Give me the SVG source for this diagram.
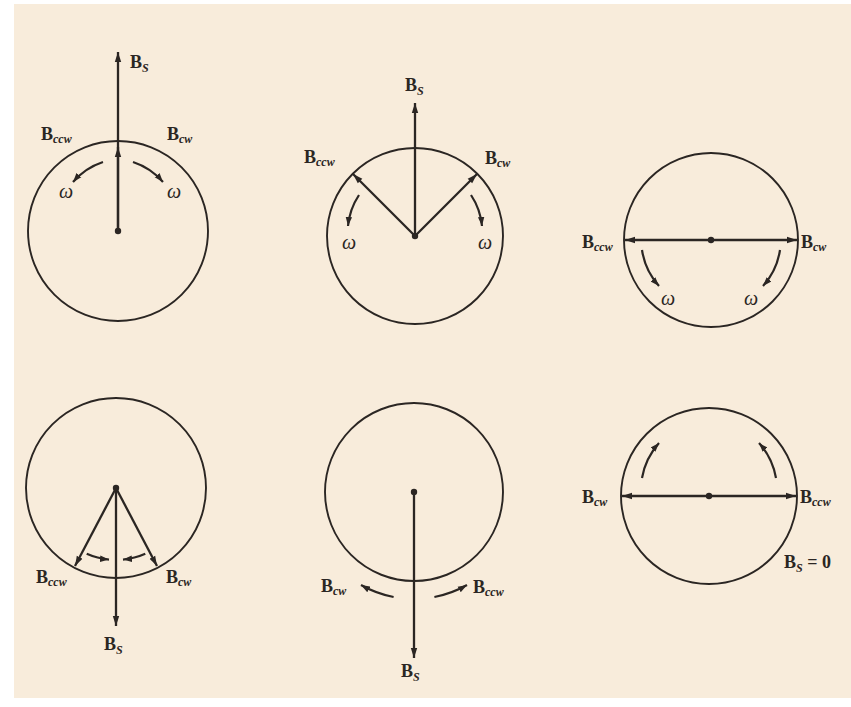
<svg xmlns="http://www.w3.org/2000/svg" width="851" height="707" viewBox="0 0 851 707">
<defs>
<style>
.bg{fill:#f8ecdb}
.circ{fill:none;stroke:#2b2623;stroke-width:1.9}
.vec{fill:none;stroke:#2b2623;stroke-width:2.3;marker-end:url(#ah)}
.rot{fill:none;stroke:#2b2623;stroke-width:2.2;marker-end:url(#ahs)}
.dot{fill:#2b2623}
.lbl{font-family:"Liberation Serif","DejaVu Serif",serif;font-weight:bold;font-size:18px;fill:#2b2623}
.sub{font-style:italic;font-size:12px}
.om{font-family:"Liberation Serif","DejaVu Serif",serif;font-style:italic;font-size:20px;fill:#2b2623}
</style>
<marker id="ah" markerUnits="userSpaceOnUse" markerWidth="11" markerHeight="8" refX="10" refY="4" orient="auto">
<path d="M0,0.8 L10,4 L0,7.2 Z" fill="#2b2623"/>
</marker>
<marker id="ahs" markerUnits="userSpaceOnUse" markerWidth="10" markerHeight="8" refX="9" refY="4" orient="auto">
<path d="M0,0.8 L9,4 L0,7.2 Z" fill="#2b2623"/>
</marker>
</defs>
<rect width="851" height="707" fill="#ffffff"/>
<rect class="bg" x="14" y="4" width="837" height="694"/>

<g id="panel1">
<circle class="circ" cx="118" cy="231" r="90"/>
<circle class="dot" cx="118" cy="231" r="3.2"/>
<text class="lbl" x="130" y="68">B<tspan class="sub" dy="4">S</tspan></text>
<text class="lbl" x="41" y="140">B<tspan class="sub" dy="3">ccw</tspan></text>
<text class="lbl" x="167" y="140">B<tspan class="sub" dy="3">cw</tspan></text>
<text class="om" x="59" y="198">ω</text>
<text class="om" x="167" y="198">ω</text>
</g>

<g id="panel2">
<circle class="circ" cx="415" cy="236" r="88"/>
<circle class="dot" cx="415" cy="236" r="3.2"/>
<text class="lbl" x="405" y="91">B<tspan class="sub" dy="4">S</tspan></text>
<text class="lbl" x="304" y="163">B<tspan class="sub" dy="3">ccw</tspan></text>
<text class="lbl" x="485" y="164">B<tspan class="sub" dy="3">cw</tspan></text>
<text class="om" x="342" y="249">ω</text>
<text class="om" x="478" y="249">ω</text>
</g>

<g id="panel3">
<circle class="circ" cx="711" cy="240" r="87"/>
<circle class="dot" cx="711" cy="240" r="3.2"/>
<text class="lbl" x="582" y="248">B<tspan class="sub" dy="3">ccw</tspan></text>
<text class="lbl" x="801" y="248">B<tspan class="sub" dy="3">cw</tspan></text>
<text class="om" x="661" y="305">ω</text>
<text class="om" x="744" y="305">ω</text>
</g>

<g id="panel4">
<circle class="circ" cx="116" cy="488" r="90"/>
<circle class="dot" cx="116" cy="488" r="3.2"/>
<text class="lbl" x="36" y="583">B<tspan class="sub" dy="3">ccw</tspan></text>
<text class="lbl" x="166" y="583">B<tspan class="sub" dy="3">cw</tspan></text>
<text class="lbl" x="104" y="650">B<tspan class="sub" dy="4">S</tspan></text>
</g>

<g id="panel5">
<circle class="circ" cx="414" cy="492" r="89"/>
<circle class="dot" cx="414" cy="492" r="3.2"/>
<text class="lbl" x="321" y="592">B<tspan class="sub" dy="3">cw</tspan></text>
<text class="lbl" x="473" y="593">B<tspan class="sub" dy="3">ccw</tspan></text>
<text class="lbl" x="401" y="677">B<tspan class="sub" dy="4">S</tspan></text>
</g>

<g id="panel6">
<circle class="circ" cx="709" cy="496" r="88"/>
<circle class="dot" cx="709" cy="496" r="3.2"/>
<text class="lbl" x="582" y="503">B<tspan class="sub" dy="3">cw</tspan></text>
<text class="lbl" x="800" y="503">B<tspan class="sub" dy="3">ccw</tspan></text>
<text class="lbl" x="784" y="568">B<tspan class="sub" dy="4">S</tspan><tspan dy="-4"> = 0</tspan></text>
</g>

<g id="connectors">
<line class="vec" x1="118" y1="231" x2="118" y2="52"/>
<line class="vec" x1="118" y1="231" x2="118" y2="147"/>
<path class="rot" d="M103,162 A68,68 0 0,0 73,182"/>
<path class="rot" d="M133,162 A68,68 0 0,1 163,182"/>
<line class="vec" x1="415" y1="236" x2="415" y2="103"/>
<line class="vec" x1="415" y1="236" x2="353" y2="174"/>
<line class="vec" x1="415" y1="236" x2="477" y2="174"/>
<path class="rot" d="M359,195 A68,68 0 0,0 348,226"/>
<path class="rot" d="M471,195 A68,68 0 0,1 482,226"/>
<line class="vec" x1="711" y1="240" x2="625" y2="240"/>
<line class="vec" x1="711" y1="240" x2="797" y2="240"/>
<path class="rot" d="M642,250 A69,69 0 0,0 659,286"/>
<path class="rot" d="M780,250 A69,69 0 0,1 763,286"/>
<line class="vec" x1="116" y1="488" x2="116" y2="626"/>
<line class="vec" x1="116" y1="488" x2="75" y2="566"/>
<line class="vec" x1="116" y1="488" x2="157" y2="566"/>
<path class="rot" d="M86.7,553.8 A72,72 0 0,0 109,559.6"/>
<path class="rot" d="M145.3,553.8 A72,72 0 0,1 123,559.6"/>
<line class="vec" x1="414" y1="492" x2="414" y2="658"/>
<path class="rot" d="M393.6,597 A107,107 0 0,1 361,585"/>
<path class="rot" d="M434.4,597 A107,107 0 0,0 467,585"/>
<line class="vec" x1="709" y1="496" x2="622" y2="496"/>
<line class="vec" x1="709" y1="496" x2="796" y2="496"/>
<path class="rot" d="M642,478 A71,71 0 0,1 659,443"/>
<path class="rot" d="M776,478 A71,71 0 0,0 759,443"/>
</g>
</svg>
